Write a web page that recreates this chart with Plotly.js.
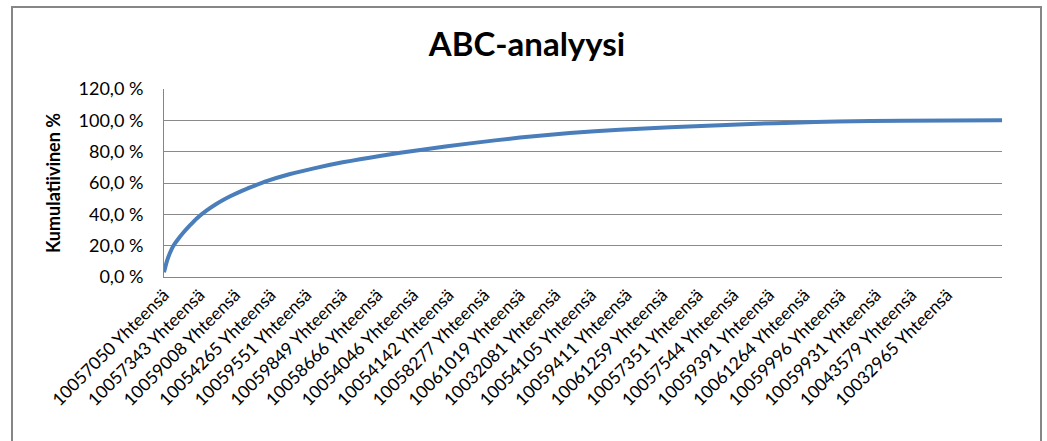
<!DOCTYPE html>
<html>
<head>
<meta charset="utf-8">
<script src="https://cdn.plot.ly/plotly-3.0.1.min.js"></script>
<style>
  html, body { margin: 0; padding: 0; background: #fff; }
  #chart { width: 1047px; height: 441px; }
</style>
</head>
<body>
<div id="chart"></div>
<script>
// Category labels shown on the x axis (every labelStep-th item)
const itemLabels = [
  "10057050 Yhteensä", "10057343 Yhteensä", "10059008 Yhteensä", "10054265 Yhteensä",
  "10059551 Yhteensä", "10059849 Yhteensä", "10058666 Yhteensä", "10054046 Yhteensä",
  "10054142 Yhteensä", "10058277 Yhteensä", "10061019 Yhteensä", "10032081 Yhteensä",
  "10054105 Yhteensä", "10059411 Yhteensä", "10061259 Yhteensä", "10057351 Yhteensä",
  "10057544 Yhteensä", "10059391 Yhteensä", "10061264 Yhteensä", "10059996 Yhteensä",
  "10059931 Yhteensä", "10043579 Yhteensä", "10032965 Yhteensä"
];
const labelStep = 50;
const itemCount = 1178;

// Item rank (position in sorted list) and cumulative share (%)
const itemRank = [0, 4, 8, 13, 20, 27, 37, 46, 60, 74, 93, 111, 130, 144, 176, 209, 251, 303, 360, 430, 500, 570, 640, 711, 781, 833, 883, 945, 1038, 1177];
const cumulativePct = [3.0, 10.0, 15.0, 19.8, 24.3, 28.2, 33.2, 37.4, 42.5, 46.8, 51.5, 55.3, 58.8, 61.2, 65.6, 69.2, 73.2, 77.3, 81.1, 85.3, 89.0, 91.9, 94.0, 95.6, 96.9, 97.8, 98.5, 99.2, 99.8, 100.0];

const yTicks = [0, 20, 40, 60, 80, 100, 120];
const yTickText = yTicks.map(v => v.toFixed(1).replace(".", ",") + " %");

const tickPositions = itemLabels.map((_, i) => i * labelStep);

const FONT = "Lato, 'Open Sans', sans-serif";

const trace = {
  x: itemRank,
  y: cumulativePct,
  type: "scatter",
  mode: "lines",
  line: { color: "#4a7ebb", width: 4, shape: "spline", smoothing: 0.6 },
  hoverinfo: "x+y",
  showlegend: false
};

// frame pixel positions converted to paper coordinates
const L = 164, R = 1002, T = 89, B = 277;
const px2x = p => (p - L) / (R - L);
const py2y = p => (B - p) / (B - T);

const layout = {
  width: 1047,
  height: 441,
  paper_bgcolor: "#ffffff",
  plot_bgcolor: "#ffffff",
  separators: ", ",
  margin: { l: L, r: 1047 - R, t: T, b: 441 - B, pad: 0 },
  font: { family: FONT, size: 18, color: "#000" },
  title: {
    text: "<b>ABC-analyysi</b>",
    font: { family: FONT, size: 33, color: "#000" },
    x: 527 / 1047, xanchor: "center", xref: "container",
    y: 1 - 44 / 441, yanchor: "middle", yref: "container"
  },
  xaxis: {
    type: "linear",
    range: [0, itemCount - 1],
    tickmode: "array",
    tickvals: tickPositions,
    ticktext: itemLabels,
    tickangle: -45,
    ticks: "",
    showgrid: false,
    zeroline: false,
    showline: true,
    linecolor: "#868686",
    linewidth: 1,
    tickfont: { family: FONT, size: 17.5, color: "#000" },
    fixedrange: true
  },
  yaxis: {
    range: [0, 120],
    tickmode: "array",
    tickvals: yTicks,
    ticktext: yTickText,
    ticks: "",
    ticklabelstandoff: 16,
    showgrid: true,
    gridcolor: "#8a8a8a",
    gridwidth: 1,
    zeroline: false,
    showline: true,
    linecolor: "#868686",
    linewidth: 1,
    tickfont: { family: FONT, size: 18, color: "#000" },
    title: {
      text: "<b>Kumulatiivinen %</b>",
      font: { family: FONT, size: 18, color: "#000" },
      standoff: 13
    },
    fixedrange: true
  },
  shapes: [
    {
      type: "rect", xref: "paper", yref: "paper", layer: "above",
      x0: px2x(12), x1: px2x(1041), y0: py2y(460), y1: py2y(7),
      line: { color: "#868686", width: 2 },
      fillcolor: "rgba(0,0,0,0)"
    }
  ]
};

Plotly.newPlot("chart", [trace], layout, { displayModeBar: false, staticPlot: true });
</script>
</body>
</html>
